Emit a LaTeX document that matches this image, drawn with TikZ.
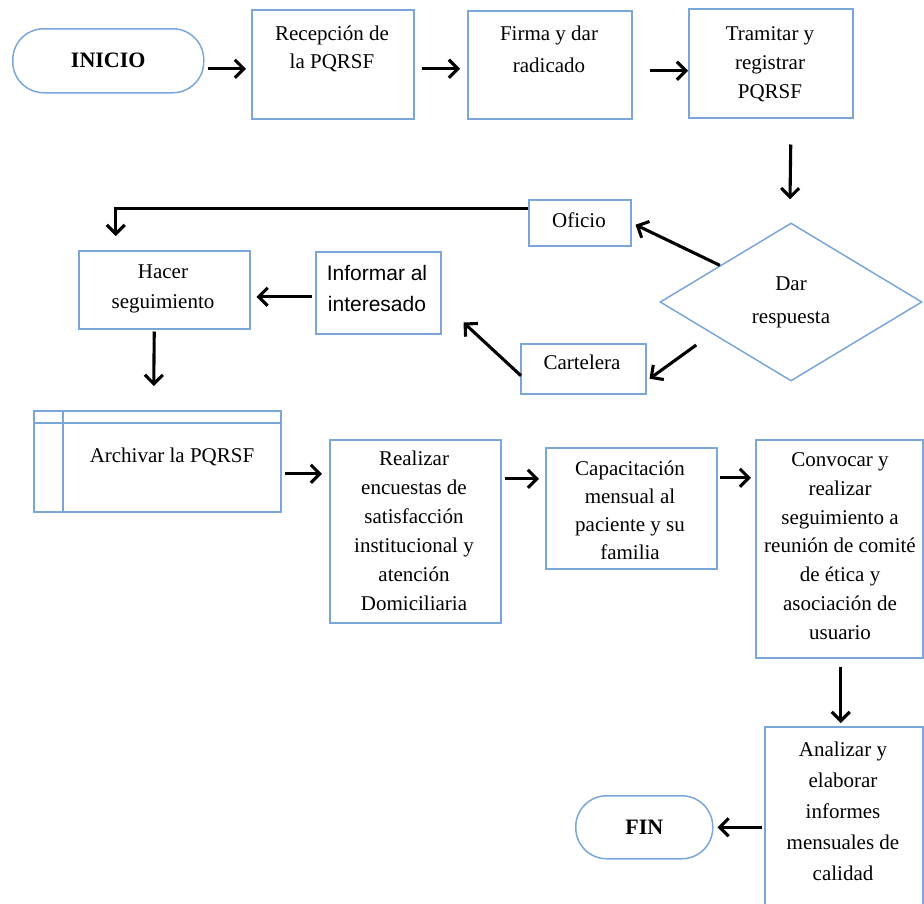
\documentclass[tikz,border=0pt]{standalone}
\usepackage{fontspec}
\setmainfont{Liberation Serif}
\newfontfamily\sansf{Liberation Sans}
\usetikzlibrary{arrows.meta,shapes.geometric,calc}
\definecolor{edgeblue}{RGB}{122,166,218}
\begin{document}
\begin{tikzpicture}[x=1pt,y=-1pt,
  box/.style={draw=edgeblue, line width=1.5pt, rectangle, inner sep=0pt, anchor=north west},
  term/.style={draw=edgeblue, line width=1.5pt, rectangle, rounded corners=31pt, inner sep=0pt,
    anchor=north west, font=\fontsize{22}{26}\selectfont\bfseries},
  lbl/.style={font=\fontsize{21}{#1}\selectfont, align=center, inner sep=0pt, anchor=base},
  lbl/.default=29,
  arr/.style={line width=3.1pt, -{Straight Barb[length=9pt,width=18pt]}}
]
\clip (0,0) rectangle (924,903);

% terminals
\node[term, minimum width=191pt, minimum height=64pt] (ini) at (12,28) {INICIO};
\node[term, minimum width=137pt, minimum height=63pt] (fin) at (575,795) {FIN};

% process boxes
\node[box, minimum width=162pt, minimum height=109pt] (rec) at (251,9) {};
\node[box, minimum width=164pt, minimum height=108pt] (fir) at (467,10) {};
\node[box, minimum width=164pt, minimum height=109pt] (tra) at (688,8) {};
\node[box, minimum width=102pt, minimum height=46pt]  (ofi) at (528,199) {};
\node[box, minimum width=171pt, minimum height=78pt]  (hac) at (78,250) {};
\node[box, minimum width=125pt, minimum height=82pt]  (inf) at (315,251) {};
\node[box, minimum width=125pt, minimum height=50pt]  (car) at (520,343) {};
\node[box, minimum width=247pt, minimum height=101pt] (arc) at (33,410) {};
\node[box, minimum width=171pt, minimum height=183pt] (rea) at (329,439) {};
\node[box, minimum width=171pt, minimum height=121pt] (cap) at (545,447) {};
\node[box, minimum width=167pt, minimum height=218pt] (con) at (755,439) {};
\node[box, minimum width=158pt, minimum height=190pt] (ana) at (764,726) {};

% decision
\node[draw=edgeblue, line width=1.5pt, diamond, inner sep=0pt,
      minimum width=262pt, minimum height=158pt] (dar) at (791,302) {};

% storage box inner lines
\draw[draw=edgeblue, line width=1.5pt] ($(arc.north west)+(30,0)$) -- ($(arc.south west)+(30,0)$);
\draw[draw=edgeblue, line width=1.5pt] ($(arc.north west)+(0,13)$) -- ($(arc.north east)+(0,13)$);

% texts (anchored at the baseline of the last line)
\node[lbl=28] (trec) at (332,68) {Recepción de\\la PQRSF};
\node[lbl=32] (tfir) at (549,72) {Firma y dar\\radicado};
\node[lbl=29] (ttra) at (770,98) {Tramitar y\\registrar\\PQRSF};
\node[lbl=33] (tdar) at (791,323) {Dar\\respuesta};
\node[lbl] (tofi) at (579,227) {Oficio};
\node[lbl=30] (thac) at (163,308) {Hacer\\seguimiento};
\node[lbl=31, font=\sansf\fontsize{21}{31}\selectfont] (tinf) at (377,311) {Informar al\\interesado};
\node[lbl] (tcar) at (582,369) {Cartelera};
\node[lbl] (tarc) at (172,462) {Archivar la PQRSF};
\node[lbl=29] (trea) at (414,610) {Realizar\\encuestas de\\satisfacción\\institucional y\\atención\\Domiciliaria};
\node[lbl=28] (tcap) at (630,559) {Capacitación\\mensual al\\paciente y su\\familia};
\node[lbl=28.7] (tcon) at (840,639) {Convocar y\\realizar\\seguimiento a\\reunión de comité\\de ética y\\asociación de\\usuario};
\node[lbl=31] (tana) at (843,880) {Analizar y\\elaborar\\informes\\mensuales de\\calidad};

% connectors
\draw[arr] ($(ini.east)+(3,8)$) -- ($(rec.west)+(-5,4.5)$);
\draw[arr] ($(rec.east)+(7,4.5)$) -- ($(fir.west)+(-7,4)$);
\draw[arr] ($(fir.east)+(17,6)$) -- ($(tra.west)+(0,7.5)$);
\draw[arr] ($(tra.south)+(20,26)$) -- ($(dar.north)+(-1,-23)$);
\draw[arr] ($(dar.west)!0.46!(dar.north)$) -- ($(ofi.east)+(4,2)$);
\draw[arr] ($(dar.west)+(37,43)$) -- ($(car.east)+(3,10)$);
\draw[arr] ($(ofi.west)+(0,-14)$) -| ($(hac.north)+(-48.5,-14)$);
\draw[arr] ($(car.west)+(1,7)$) -- ($(inf.south east)+(22,-12)$);
\draw[arr] ($(inf.west)+(-3,4)$) -- ($(hac.east)+(6,7)$);
\draw[arr] ($(hac.south)+(-10,2)$) -- ($(arc.north)+(-3.5,-24)$);
\draw[arr] ($(arc.east)+(3,12.5)$) -- ($(rea.west)+(-7,-57.5)$);
\draw[arr] ($(rea.east)+(3,-52.5)$) -- ($(cap.west)+(-6,-29.5)$);
\draw[arr] ($(cap.east)+(2,-30.5)$) -- ($(con.west)+(-4,-71)$);
\draw[arr] ($(con.south)+(1.5,8)$) -- ($(ana.north)+(-3,-3)$);
\draw[arr] ($(ana.west)+(-2,5.5)$) -- ($(fin.east)+(4,0)$);
\end{tikzpicture}
\end{document}
